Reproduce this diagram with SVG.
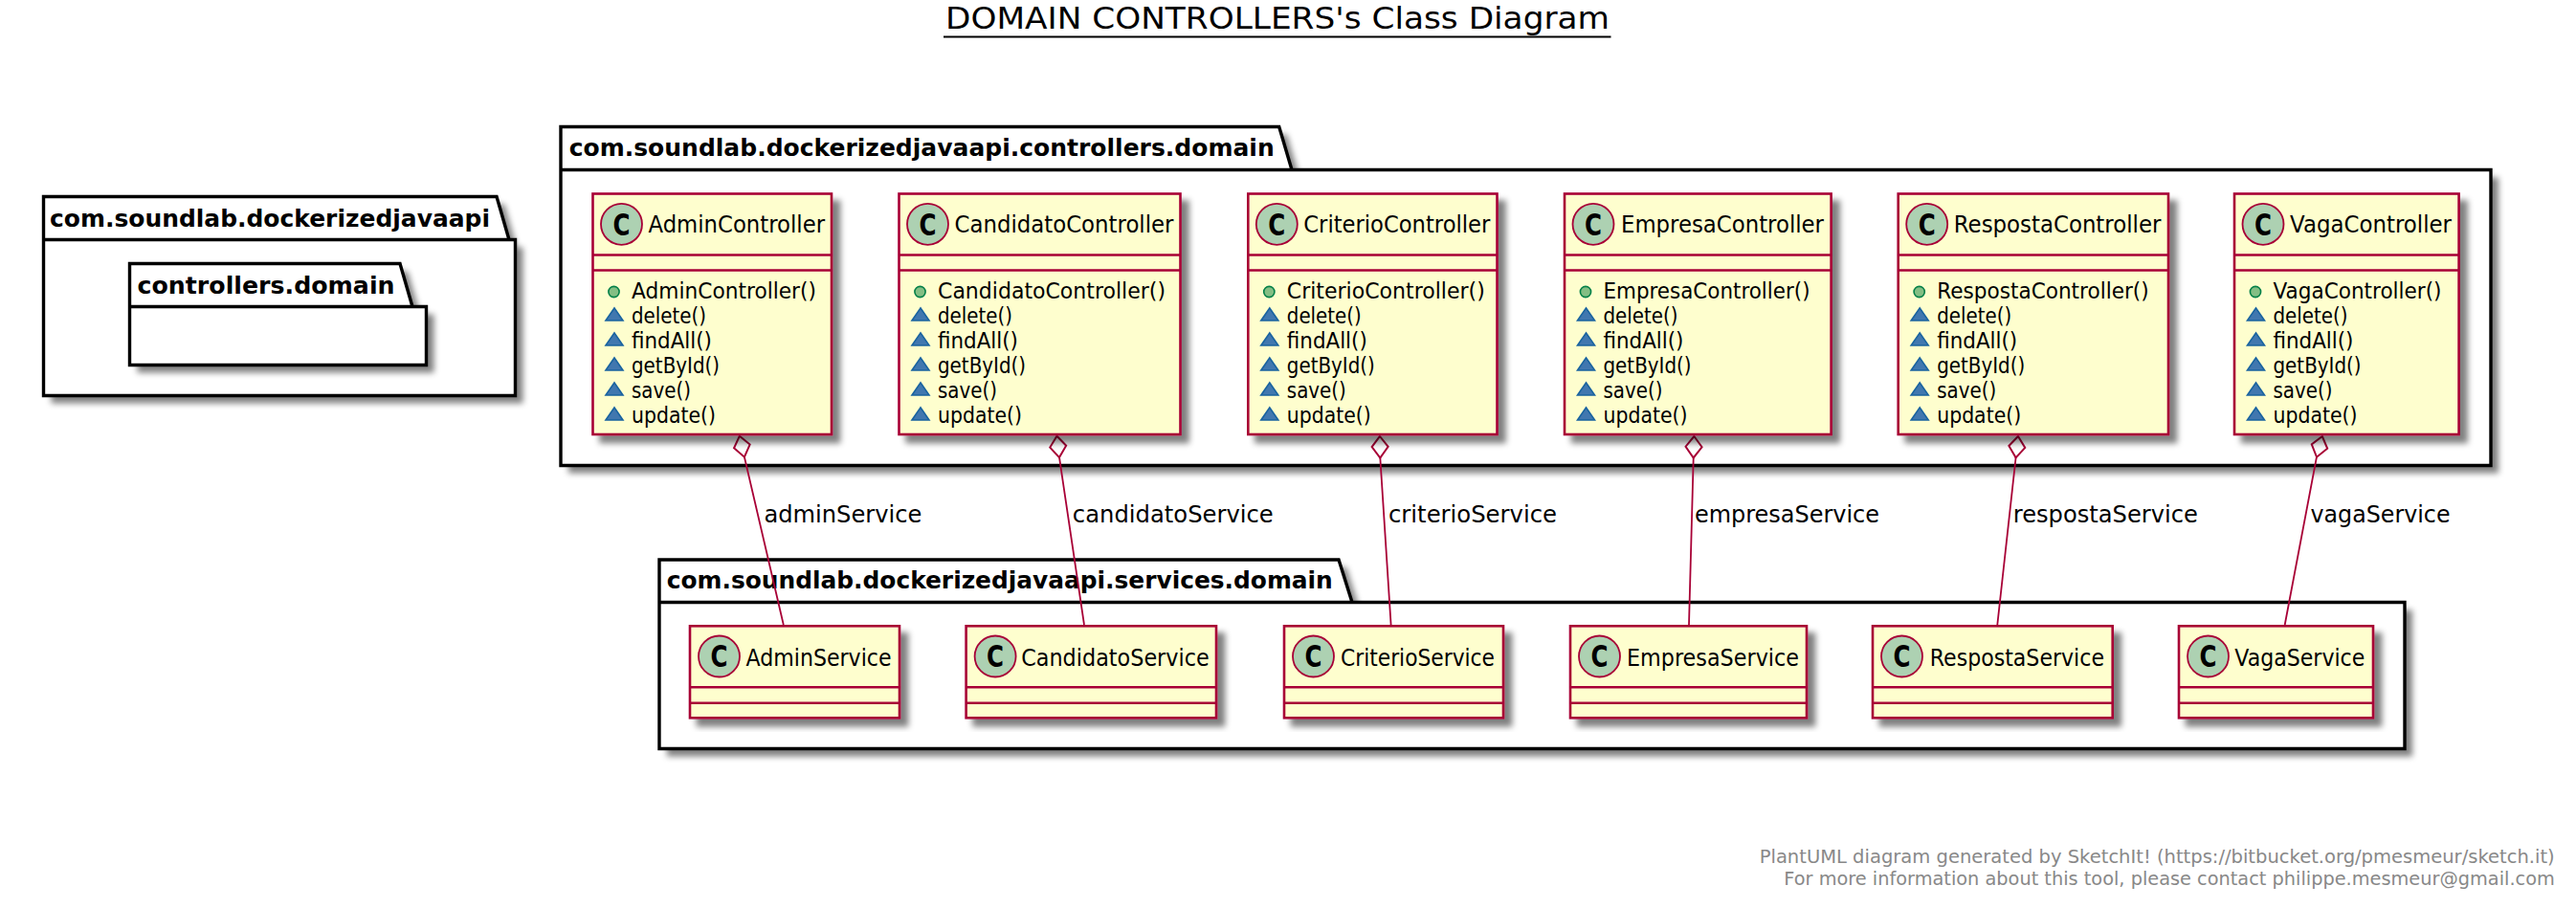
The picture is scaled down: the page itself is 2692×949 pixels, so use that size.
<svg xmlns="http://www.w3.org/2000/svg" width="2692" height="949" viewBox="0 0 2692 949">
<style>
text{font-family:"DejaVu Sans","Liberation Sans",sans-serif;fill:#000}
.pk{fill:#fff;stroke:none}
.pl{fill:none;stroke:#000;stroke-width:3.4}
.pt{font-size:24px;font-weight:bold}
.c{fill:#FEFECE;stroke:#A80036;stroke-width:2.6}
.d{stroke:#A80036;stroke-width:2.6}
.o{fill:#ADD1B2;stroke:#A80036;stroke-width:1.8}
.g{font-family:"DejaVu Sans",sans-serif;font-size:32px;font-weight:bold}
.n{font-size:24px}
.m{font-size:22.6px}
.l{font-size:24px}
.e{fill:none;stroke:#A80036;stroke-width:1.8;marker-start:url(#dia)}
.f{font-size:20px;fill:#888}
</style>
<defs>
<filter id="sh" x="-10%" y="-10%" width="125%" height="125%"><feGaussianBlur in="SourceAlpha" stdDeviation="3.2"/><feOffset dx="7.5" dy="7.5"/><feComponentTransfer><feFuncA type="linear" slope="0.5"/></feComponentTransfer><feMerge><feMergeNode/><feMergeNode in="SourceGraphic"/></feMerge></filter>
<marker id="dia" markerUnits="userSpaceOnUse" markerWidth="30" markerHeight="24" refX="1" refY="12" orient="auto" overflow="visible"><polygon points="1,12 12,3.5 23.5,12 12,20.5" fill="#fff" stroke="#A80036" stroke-width="2"/></marker>
<polygon id="tri" points="9.5,-15.5 0.5,-2.5 18.5,-2.5" fill="#4177AF" stroke="#1963A0" stroke-width="1.6"/>
<circle id="pub" r="5.6" fill="#84BE84" stroke="#038048" stroke-width="1.6"/>
</defs>
<rect width="2692" height="949" fill="#fff"/>
<g id="title"><text x="988" y="30" font-size="32" textLength="694" lengthAdjust="spacingAndGlyphs">DOMAIN CONTROLLERS's Class Diagram</text><line x1="986" y1="38.5" x2="1683.5" y2="38.5" stroke="#000" stroke-width="2"/></g>

<g id="pkg-root">
<path class="pk" filter="url(#sh)" d="M45.5 205.5H519L532 250.5H538.5V413.5H45.5Z"/>
<path class="pl" d="M45.5 205.5H519L532 250.5H538.5V413.5H45.5ZM45.5 250.5H532"/>
<text class="pt" x="52" y="236.7" textLength="460" lengthAdjust="spacingAndGlyphs">com.soundlab.dockerizedjavaapi</text>
</g>
<g id="pkg-root-controllers">
<path class="pk" filter="url(#sh)" d="M135.5 275.5H418L431 320.5H445.5V381.5H135.5Z"/>
<path class="pl" d="M135.5 275.5H418L431 320.5H445.5V381.5H135.5ZM135.5 320.5H431"/>
<text class="pt" x="143.5" y="306.7" textLength="269" lengthAdjust="spacingAndGlyphs">controllers.domain</text>
</g>
<g id="pkg-controllers">
<path class="pk" filter="url(#sh)" d="M586 132.5H1336.7L1350 177.5H2603V486.5H586Z"/>
<path class="pl" d="M586 132.5H1336.7L1350 177.5H2603V486.5H586ZM586 177.5H1350"/>
<text class="pt" x="594.7" y="163" textLength="737" lengthAdjust="spacingAndGlyphs">com.soundlab.dockerizedjavaapi.controllers.domain</text>
</g>
<g id="pkg-services">
<path class="pk" filter="url(#sh)" d="M689 585H1399L1413 629.5H2513V782.5H689Z"/>
<path class="pl" d="M689 585H1399L1413 629.5H2513V782.5H689ZM689 629.5H1413"/>
<text class="pt" x="696.8" y="615" textLength="696" lengthAdjust="spacingAndGlyphs">com.soundlab.dockerizedjavaapi.services.domain</text>
</g>

<g id="connectors">
<path class="e" d="M772.9 455.7L778 478L818.8 653"/>
<path class="e" d="M1104.5 455.7L1107 478L1133 653"/>
<path class="e" d="M1442 456L1442.3 478L1453.6 653"/>
<path class="e" d="M1770.4 456L1769.7 479L1765 653"/>
<path class="e" d="M2109 456L2106.5 479L2087.3 653"/>
<path class="e" d="M2426.8 456L2420.7 479L2387.7 653"/>
<text class="l" x="798.4" y="545.7" textLength="165" lengthAdjust="spacingAndGlyphs">adminService</text>
<text class="l" x="1120.8" y="545.7" textLength="210" lengthAdjust="spacingAndGlyphs">candidatoService</text>
<text class="l" x="1451" y="545.7" textLength="176" lengthAdjust="spacingAndGlyphs">criterioService</text>
<text class="l" x="1771" y="545.7" textLength="193" lengthAdjust="spacingAndGlyphs">empresaService</text>
<text class="l" x="2103.8" y="545.7" textLength="193" lengthAdjust="spacingAndGlyphs">respostaService</text>
<text class="l" x="2414.5" y="545.7" textLength="146" lengthAdjust="spacingAndGlyphs">vagaService</text>
</g>

<g id="AdminController" transform="translate(619.5,202.5)">
<rect class="c" filter="url(#sh)" width="249.5" height="251.5"/><path class="d" d="M0 64H249.5M0 80H249.5"/>
<circle class="o" cx="30" cy="31.8" r="21.5"/><text class="g" x="30" y="43" text-anchor="middle" textLength="18" lengthAdjust="spacingAndGlyphs">C</text>
<text class="n" x="58" y="40.5" textLength="184.5" lengthAdjust="spacingAndGlyphs">AdminController</text>
<use href="#pub" x="22" y="102.5"/><text class="m" x="40.5" y="109" textLength="193" lengthAdjust="spacingAndGlyphs">AdminController()</text>
<use href="#tri" x="13" y="135"/><text class="m" x="40.5" y="135" textLength="78" lengthAdjust="spacingAndGlyphs">delete()</text>
<use href="#tri" x="13" y="161"/><text class="m" x="40.5" y="161" textLength="84" lengthAdjust="spacingAndGlyphs">findAll()</text>
<use href="#tri" x="13" y="187"/><text class="m" x="40.5" y="187" textLength="92" lengthAdjust="spacingAndGlyphs">getById()</text>
<use href="#tri" x="13" y="213"/><text class="m" x="40.5" y="213" textLength="62" lengthAdjust="spacingAndGlyphs">save()</text>
<use href="#tri" x="13" y="239"/><text class="m" x="40.5" y="239" textLength="88" lengthAdjust="spacingAndGlyphs">update()</text>
</g>
<g id="CandidatoController" transform="translate(939.5,202.5)">
<rect class="c" filter="url(#sh)" width="294" height="251.5"/><path class="d" d="M0 64H294M0 80H294"/>
<circle class="o" cx="30" cy="31.8" r="21.5"/><text class="g" x="30" y="43" text-anchor="middle" textLength="18" lengthAdjust="spacingAndGlyphs">C</text>
<text class="n" x="58" y="40.5" textLength="229" lengthAdjust="spacingAndGlyphs">CandidatoController</text>
<use href="#pub" x="22" y="102.5"/><text class="m" x="40.5" y="109" textLength="238" lengthAdjust="spacingAndGlyphs">CandidatoController()</text>
<use href="#tri" x="13" y="135"/><text class="m" x="40.5" y="135" textLength="78" lengthAdjust="spacingAndGlyphs">delete()</text>
<use href="#tri" x="13" y="161"/><text class="m" x="40.5" y="161" textLength="84" lengthAdjust="spacingAndGlyphs">findAll()</text>
<use href="#tri" x="13" y="187"/><text class="m" x="40.5" y="187" textLength="92" lengthAdjust="spacingAndGlyphs">getById()</text>
<use href="#tri" x="13" y="213"/><text class="m" x="40.5" y="213" textLength="62" lengthAdjust="spacingAndGlyphs">save()</text>
<use href="#tri" x="13" y="239"/><text class="m" x="40.5" y="239" textLength="88" lengthAdjust="spacingAndGlyphs">update()</text>
</g>
<g id="CriterioController" transform="translate(1304.3,202.5)">
<rect class="c" filter="url(#sh)" width="260.2" height="251.5"/><path class="d" d="M0 64H260.2M0 80H260.2"/>
<circle class="o" cx="30" cy="31.8" r="21.5"/><text class="g" x="30" y="43" text-anchor="middle" textLength="18" lengthAdjust="spacingAndGlyphs">C</text>
<text class="n" x="58" y="40.5" textLength="195" lengthAdjust="spacingAndGlyphs">CriterioController</text>
<use href="#pub" x="22" y="102.5"/><text class="m" x="40.5" y="109" textLength="207" lengthAdjust="spacingAndGlyphs">CriterioController()</text>
<use href="#tri" x="13" y="135"/><text class="m" x="40.5" y="135" textLength="78" lengthAdjust="spacingAndGlyphs">delete()</text>
<use href="#tri" x="13" y="161"/><text class="m" x="40.5" y="161" textLength="84" lengthAdjust="spacingAndGlyphs">findAll()</text>
<use href="#tri" x="13" y="187"/><text class="m" x="40.5" y="187" textLength="92" lengthAdjust="spacingAndGlyphs">getById()</text>
<use href="#tri" x="13" y="213"/><text class="m" x="40.5" y="213" textLength="62" lengthAdjust="spacingAndGlyphs">save()</text>
<use href="#tri" x="13" y="239"/><text class="m" x="40.5" y="239" textLength="88" lengthAdjust="spacingAndGlyphs">update()</text>
</g>
<g id="EmpresaController" transform="translate(1635,202.5)">
<rect class="c" filter="url(#sh)" width="278.6" height="251.5"/><path class="d" d="M0 64H278.6M0 80H278.6"/>
<circle class="o" cx="30" cy="31.8" r="21.5"/><text class="g" x="30" y="43" text-anchor="middle" textLength="18" lengthAdjust="spacingAndGlyphs">C</text>
<text class="n" x="59" y="40.5" textLength="212" lengthAdjust="spacingAndGlyphs">EmpresaController</text>
<use href="#pub" x="22" y="102.5"/><text class="m" x="40.5" y="109" textLength="216" lengthAdjust="spacingAndGlyphs">EmpresaController()</text>
<use href="#tri" x="13" y="135"/><text class="m" x="40.5" y="135" textLength="78" lengthAdjust="spacingAndGlyphs">delete()</text>
<use href="#tri" x="13" y="161"/><text class="m" x="40.5" y="161" textLength="84" lengthAdjust="spacingAndGlyphs">findAll()</text>
<use href="#tri" x="13" y="187"/><text class="m" x="40.5" y="187" textLength="92" lengthAdjust="spacingAndGlyphs">getById()</text>
<use href="#tri" x="13" y="213"/><text class="m" x="40.5" y="213" textLength="62" lengthAdjust="spacingAndGlyphs">save()</text>
<use href="#tri" x="13" y="239"/><text class="m" x="40.5" y="239" textLength="88" lengthAdjust="spacingAndGlyphs">update()</text>
</g>
<g id="RespostaController" transform="translate(1983.7,202.5)">
<rect class="c" filter="url(#sh)" width="282.3" height="251.5"/><path class="d" d="M0 64H282.3M0 80H282.3"/>
<circle class="o" cx="30" cy="31.8" r="21.5"/><text class="g" x="30" y="43" text-anchor="middle" textLength="18" lengthAdjust="spacingAndGlyphs">C</text>
<text class="n" x="58" y="40.5" textLength="216.7" lengthAdjust="spacingAndGlyphs">RespostaController</text>
<use href="#pub" x="22" y="102.5"/><text class="m" x="40.5" y="109" textLength="221.5" lengthAdjust="spacingAndGlyphs">RespostaController()</text>
<use href="#tri" x="13" y="135"/><text class="m" x="40.5" y="135" textLength="78" lengthAdjust="spacingAndGlyphs">delete()</text>
<use href="#tri" x="13" y="161"/><text class="m" x="40.5" y="161" textLength="84" lengthAdjust="spacingAndGlyphs">findAll()</text>
<use href="#tri" x="13" y="187"/><text class="m" x="40.5" y="187" textLength="92" lengthAdjust="spacingAndGlyphs">getById()</text>
<use href="#tri" x="13" y="213"/><text class="m" x="40.5" y="213" textLength="62" lengthAdjust="spacingAndGlyphs">save()</text>
<use href="#tri" x="13" y="239"/><text class="m" x="40.5" y="239" textLength="88" lengthAdjust="spacingAndGlyphs">update()</text>
</g>
<g id="VagaController" transform="translate(2335,202.5)">
<rect class="c" filter="url(#sh)" width="234.6" height="251.5"/><path class="d" d="M0 64H234.6M0 80H234.6"/>
<circle class="o" cx="30" cy="31.8" r="21.5"/><text class="g" x="30" y="43" text-anchor="middle" textLength="18" lengthAdjust="spacingAndGlyphs">C</text>
<text class="n" x="58" y="40.5" textLength="169" lengthAdjust="spacingAndGlyphs">VagaController</text>
<use href="#pub" x="22" y="102.5"/><text class="m" x="40.5" y="109" textLength="176" lengthAdjust="spacingAndGlyphs">VagaController()</text>
<use href="#tri" x="13" y="135"/><text class="m" x="40.5" y="135" textLength="78" lengthAdjust="spacingAndGlyphs">delete()</text>
<use href="#tri" x="13" y="161"/><text class="m" x="40.5" y="161" textLength="84" lengthAdjust="spacingAndGlyphs">findAll()</text>
<use href="#tri" x="13" y="187"/><text class="m" x="40.5" y="187" textLength="92" lengthAdjust="spacingAndGlyphs">getById()</text>
<use href="#tri" x="13" y="213"/><text class="m" x="40.5" y="213" textLength="62" lengthAdjust="spacingAndGlyphs">save()</text>
<use href="#tri" x="13" y="239"/><text class="m" x="40.5" y="239" textLength="88" lengthAdjust="spacingAndGlyphs">update()</text>
</g>

<g id="AdminService" transform="translate(721,654.3)">
<rect class="c" filter="url(#sh)" width="219" height="96"/><path class="d" d="M0 64H219M0 80.4H219"/>
<circle class="o" cx="30.5" cy="31.7" r="21.5"/><text class="g" x="30.5" y="43" text-anchor="middle" textLength="18" lengthAdjust="spacingAndGlyphs">C</text>
<text class="n" x="58.5" y="41.4" textLength="152" lengthAdjust="spacingAndGlyphs">AdminService</text>
</g>
<g id="CandidatoService" transform="translate(1009.6,654.3)">
<rect class="c" filter="url(#sh)" width="261.4" height="96"/><path class="d" d="M0 64H261.4M0 80.4H261.4"/>
<circle class="o" cx="30.5" cy="31.7" r="21.5"/><text class="g" x="30.5" y="43" text-anchor="middle" textLength="18" lengthAdjust="spacingAndGlyphs">C</text>
<text class="n" x="57.6" y="41.4" textLength="196.5" lengthAdjust="spacingAndGlyphs">CandidatoService</text>
</g>
<g id="CriterioService" transform="translate(1342,654.3)">
<rect class="c" filter="url(#sh)" width="229" height="96"/><path class="d" d="M0 64H229M0 80.4H229"/>
<circle class="o" cx="30.5" cy="31.7" r="21.5"/><text class="g" x="30.5" y="43" text-anchor="middle" textLength="18" lengthAdjust="spacingAndGlyphs">C</text>
<text class="n" x="59" y="41.4" textLength="161" lengthAdjust="spacingAndGlyphs">CriterioService</text>
</g>
<g id="EmpresaService" transform="translate(1641,654.3)">
<rect class="c" filter="url(#sh)" width="247" height="96"/><path class="d" d="M0 64H247M0 80.4H247"/>
<circle class="o" cx="30.5" cy="31.7" r="21.5"/><text class="g" x="30.5" y="43" text-anchor="middle" textLength="18" lengthAdjust="spacingAndGlyphs">C</text>
<text class="n" x="59" y="41.4" textLength="180" lengthAdjust="spacingAndGlyphs">EmpresaService</text>
</g>
<g id="RespostaService" transform="translate(1957,654.3)">
<rect class="c" filter="url(#sh)" width="250.7" height="96"/><path class="d" d="M0 64H250.7M0 80.4H250.7"/>
<circle class="o" cx="30.5" cy="31.7" r="21.5"/><text class="g" x="30.5" y="43" text-anchor="middle" textLength="18" lengthAdjust="spacingAndGlyphs">C</text>
<text class="n" x="59.7" y="41.4" textLength="182.3" lengthAdjust="spacingAndGlyphs">RespostaService</text>
</g>
<g id="VagaService" transform="translate(2277,654.3)">
<rect class="c" filter="url(#sh)" width="203" height="96"/><path class="d" d="M0 64H203M0 80.4H203"/>
<circle class="o" cx="30.5" cy="31.7" r="21.5"/><text class="g" x="30.5" y="43" text-anchor="middle" textLength="18" lengthAdjust="spacingAndGlyphs">C</text>
<text class="n" x="58.3" y="41.4" textLength="136" lengthAdjust="spacingAndGlyphs">VagaService</text>
</g>

<g id="footer">
<text class="f" x="1838.7" y="901.7" textLength="831" lengthAdjust="spacingAndGlyphs">PlantUML diagram generated by SketchIt! (https://bitbucket.org/pmesmeur/sketch.it)</text>
<text class="f" x="1864.3" y="925" textLength="805.5" lengthAdjust="spacingAndGlyphs">For more information about this tool, please contact philippe.mesmeur@gmail.com</text>
</g>
</svg>
